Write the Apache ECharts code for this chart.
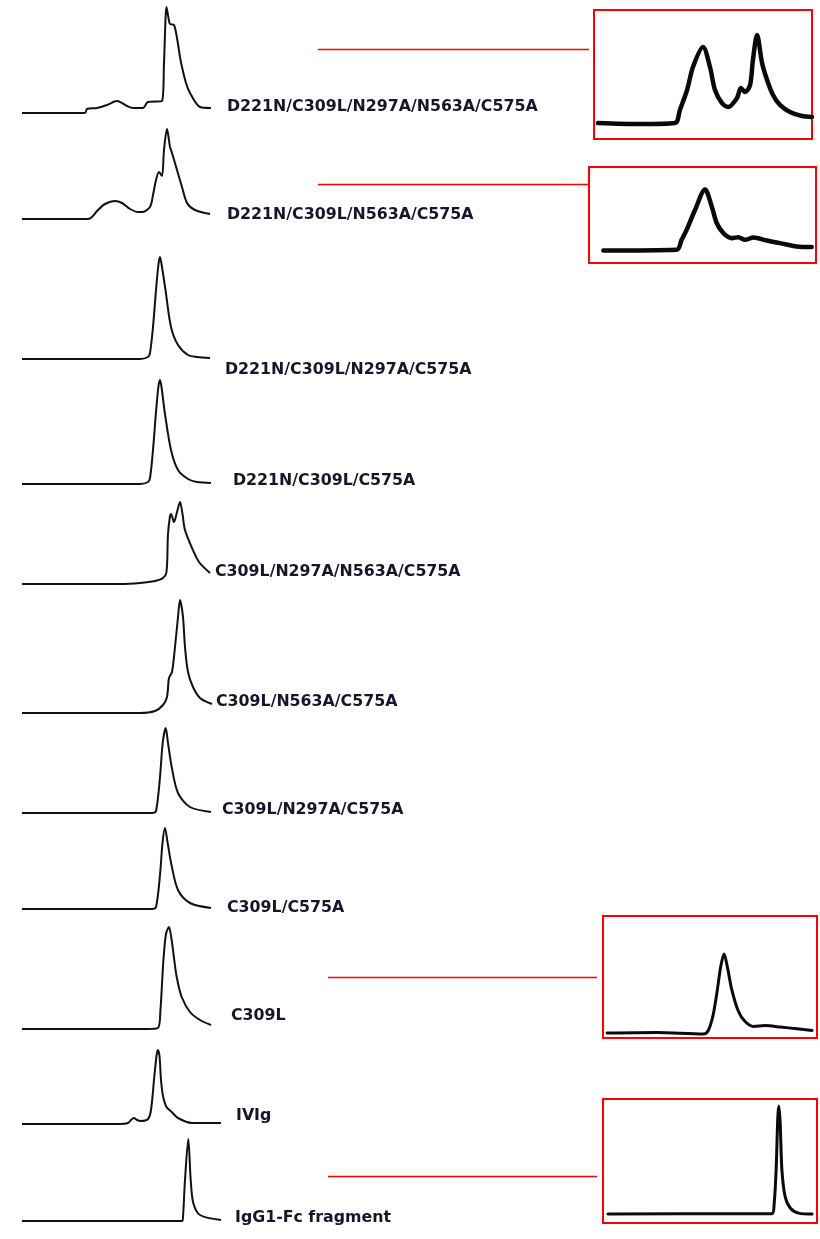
<!DOCTYPE html>
<html>
<head>
<meta charset="utf-8">
<script src="https://cdn.jsdelivr.net/npm/echarts@6/dist/echarts.min.js"></script>
<style>
html,body{margin:0;padding:0;background:#fff;}
#chart{width:820px;height:1239px;}
</style>
</head>
<body>
<div id="chart"></div>
<script>
// ---- Data: elution volume (mL) vs. absorbance (relative units) ----
const labels = [
  'D221N/C309L/N297A/N563A/C575A',
  'D221N/C309L/N563A/C575A',
  'D221N/C309L/N297A/C575A',
  'D221N/C309L/C575A',
  'C309L/N297A/N563A/C575A',
  'C309L/N563A/C575A',
  'C309L/N297A/C575A',
  'C309L/C575A',
  'C309L',
  'IVIg',
  'IgG1-Fc fragment'
];

const trace1 = [[0,0],[6.3,0],[6.5,4],[7.5,5],[8.5,8],[9.5,12],[10.5,7],[11.1,5],[12.1,5],[12.6,11],[14.0,12],[14.2,50],[14.45,106],[14.65,95],[14.8,89],[15.2,88],[15.5,75],[15.8,56],[16.0,46],[16.4,30],[16.8,20],[17.8,6],[18.9,5]];
const trace2 = [[0,0],[6.6,0],[7.0,2],[7.6,9],[8.3,15],[9.3,18],[10.0,16],[10.8,10],[11.6,7],[12.0,7],[12.8,12],[13.1,24],[13.4,39],[13.7,47],[14.0,43],[14.2,69],[14.5,90],[14.8,72],[15.0,66],[15.5,49],[16.0,32],[16.5,16],[17.3,9],[18.8,5]];
const trace3 = [[0,0],[11.8,0],[12.6,2],[12.8,6],[13.1,32],[13.4,69],[13.65,95],[13.8,102],[13.95,95],[14.35,69],[14.9,32],[15.6,14],[16.6,4],[17.5,2],[18.8,1]];
const trace4 = [[0,0],[11.8,0],[12.6,2],[12.8,6],[13.1,34],[13.4,72],[13.65,98],[13.8,104],[13.95,97],[14.3,70],[14.9,34],[15.6,14],[16.6,5],[17.5,2],[18.9,1]];
const trace5 = [[0,0],[9.8,0],[11.8,1],[13.3,3],[14.1,6],[14.45,12],[14.6,50],[14.8,68],[14.9,70],[15.2,62],[15.5,72],[15.8,82],[16.05,70],[16.3,54],[17.0,36],[17.7,22],[18.8,11]];
const trace6 = [[0,0],[11.8,0],[13.3,2],[14.1,8],[14.5,16],[14.7,35],[15.0,41],[15.3,66],[15.6,96],[15.8,113],[16.1,96],[16.3,66],[16.6,41],[17.1,26],[17.8,15],[19.0,9]];
const trace7 = [[0,0],[13.0,0],[13.4,2],[13.8,36],[14.07,70],[14.37,85],[14.6,70],[14.97,46],[15.6,20],[16.8,6],[18.9,1]];
const trace8 = [[0,0],[13.0,0],[13.4,2],[13.8,34],[14.05,66],[14.3,81],[14.55,67],[14.95,44],[15.6,19],[16.8,6],[18.9,1]];
const trace9 = [[0,0],[12.5,0],[13.6,1],[13.85,20],[14.0,45],[14.15,70],[14.4,95],[14.7,102],[14.95,90],[15.15,75],[15.47,52],[15.97,32],[16.8,17],[17.8,9],[18.9,4]];
const trace10 = [[0,0],[9.8,0],[10.6,1],[10.9,4],[11.2,6],[11.5,4],[11.9,3],[12.6,5],[12.9,14],[13.2,44],[13.45,68],[13.58,74],[13.75,68],[13.9,44],[14.1,28],[14.45,17],[14.97,12],[15.6,6],[17.0,1],[19.9,1]];
const trace11 = [[0,0],[16.0,0],[16.1,4],[16.3,41],[16.63,82],[16.87,41],[17.13,18],[17.8,6],[19.9,1]];

// Zoomed insets (relative elution % vs. relative absorbance %)
const inset1 = [[1.8,12.4],[21.1,11.6],[37.2,12.4],[39.4,22.5],[42.7,38.0],[45.4,55.8],[50.0,71.3],[53.2,55.8],[55.5,38.0],[58.7,27.9],[61.5,24.8],[65.6,31.8],[67.4,39.5],[69.3,36.4],[71.6,41.9],[72.9,61.2],[74.8,80.6],[77.1,58.9],[79.4,45.7],[82.1,34.1],[85.3,26.4],[89.9,20.9],[95.4,17.8],[100,17.1]];
const inset2 = [[6.3,13.0],[38.6,13.8],[40.8,24.1],[43.0,34.5],[46.7,55.2],[51.1,76.6],[54.1,58.6],[56.3,41.4],[59.2,31.1],[62.9,25.9],[65.8,26.9],[68.7,24.1],[72.4,26.5],[78.3,23.4],[84.1,20.7],[91.5,17.2],[98.1,16.6]];
const inset3 = [[1.9,4.1],[25.0,4.6],[46.9,3.3],[49.2,6.2],[51.3,17.6],[53.2,36.7],[55.0,58.4],[56.6,68.8],[58.1,58.4],[60.2,39.4],[63.3,21.7],[66.4,13.5],[70.3,9.5],[75.8,10.3],[82.8,9.0],[90.6,7.6],[97.7,6.2]];
const inset4 = [[2.3,7.2],[62.5,7.5],[78.9,7.5],[80.0,16.1],[80.9,42.9],[81.7,85.8],[82.2,94.4],[82.8,80.5],[83.6,42.9],[85.1,21.4],[87.5,12.1],[91.4,8.0],[97.7,7.2]];

const traces = [trace1,trace2,trace3,trace4,trace5,trace6,trace7,trace8,trace9,trace10,trace11];
const insets = [inset1,inset2,inset3,inset4];

// ---- Layout (pixels) ----
const traceBaselines = [113,219,359,484,584,713,813,909,1029,1124,1221];
const labelPos = [[227,107],[227,214.5],[225,369.5],[233,481],[215,572],[216,702],[222,810],[227,908],[231,1015.5],[236,1115.5],[235,1217.5]];
const insetBoxes = [[594,10,218,129],[589,167,227,96],[603,916,214,122],[603,1099,214,124]];
const insetWidths = [4.5,4.5,3,3];
const connectors = [[318,49.5,589],[318,184.5,589],[328,977.5,597],[328,1176.5,597]];

const grids = [], xAxes = [], yAxes = [], series = [], graphics = [];

traces.forEach((d,i)=>{
  grids.push({left:22, top:traceBaselines[i]-100, width:200, height:100, show:false});
  xAxes.push({type:'value', gridIndex:i, min:0, max:20, show:false});
  yAxes.push({type:'value', gridIndex:i, min:0, max:100, show:false});
  series.push({type:'line', xAxisIndex:i, yAxisIndex:i, data:d, showSymbol:false, smooth:0.3,
    clip:false, silent:true, lineStyle:{color:'#111', width:2}});
});

insets.forEach((d,k)=>{
  const gi = traces.length + k;
  const b = insetBoxes[k];
  grids.push({left:b[0], top:b[1], width:b[2], height:b[3], show:true, borderColor:'#ff0000', borderWidth:2, backgroundColor:'transparent'});
  xAxes.push({type:'value', gridIndex:gi, min:0, max:100, show:false});
  yAxes.push({type:'value', gridIndex:gi, min:0, max:100, show:false});
  series.push({type:'line', xAxisIndex:gi, yAxisIndex:gi, data:d, showSymbol:false, smooth:0.3,
    clip:false, silent:true, lineStyle:{color:'#0a0a0a', width:insetWidths[k], cap:'round', join:'round'}});
});

connectors.forEach(c=>{
  graphics.push({type:'line', shape:{x1:c[0], y1:c[1], x2:c[2], y2:c[1]}, style:{stroke:'#ff0000', lineWidth:1.5}, silent:true});
});

labels.forEach((t,i)=>{
  graphics.push({type:'text', x:labelPos[i][0], y:labelPos[i][1], silent:true,
    style:{text:t, font:'bold 15.8px "DejaVu Sans"', fill:'#16162a', align:'left', verticalAlign:'middle'}});
});

const chart = echarts.init(document.getElementById('chart'), null, {renderer:'canvas'});
chart.setOption({
  animation:false,
  backgroundColor:'#ffffff',
  grid:grids, xAxis:xAxes, yAxis:yAxes, series:series, graphic:graphics
});
</script>
</body>
</html>
